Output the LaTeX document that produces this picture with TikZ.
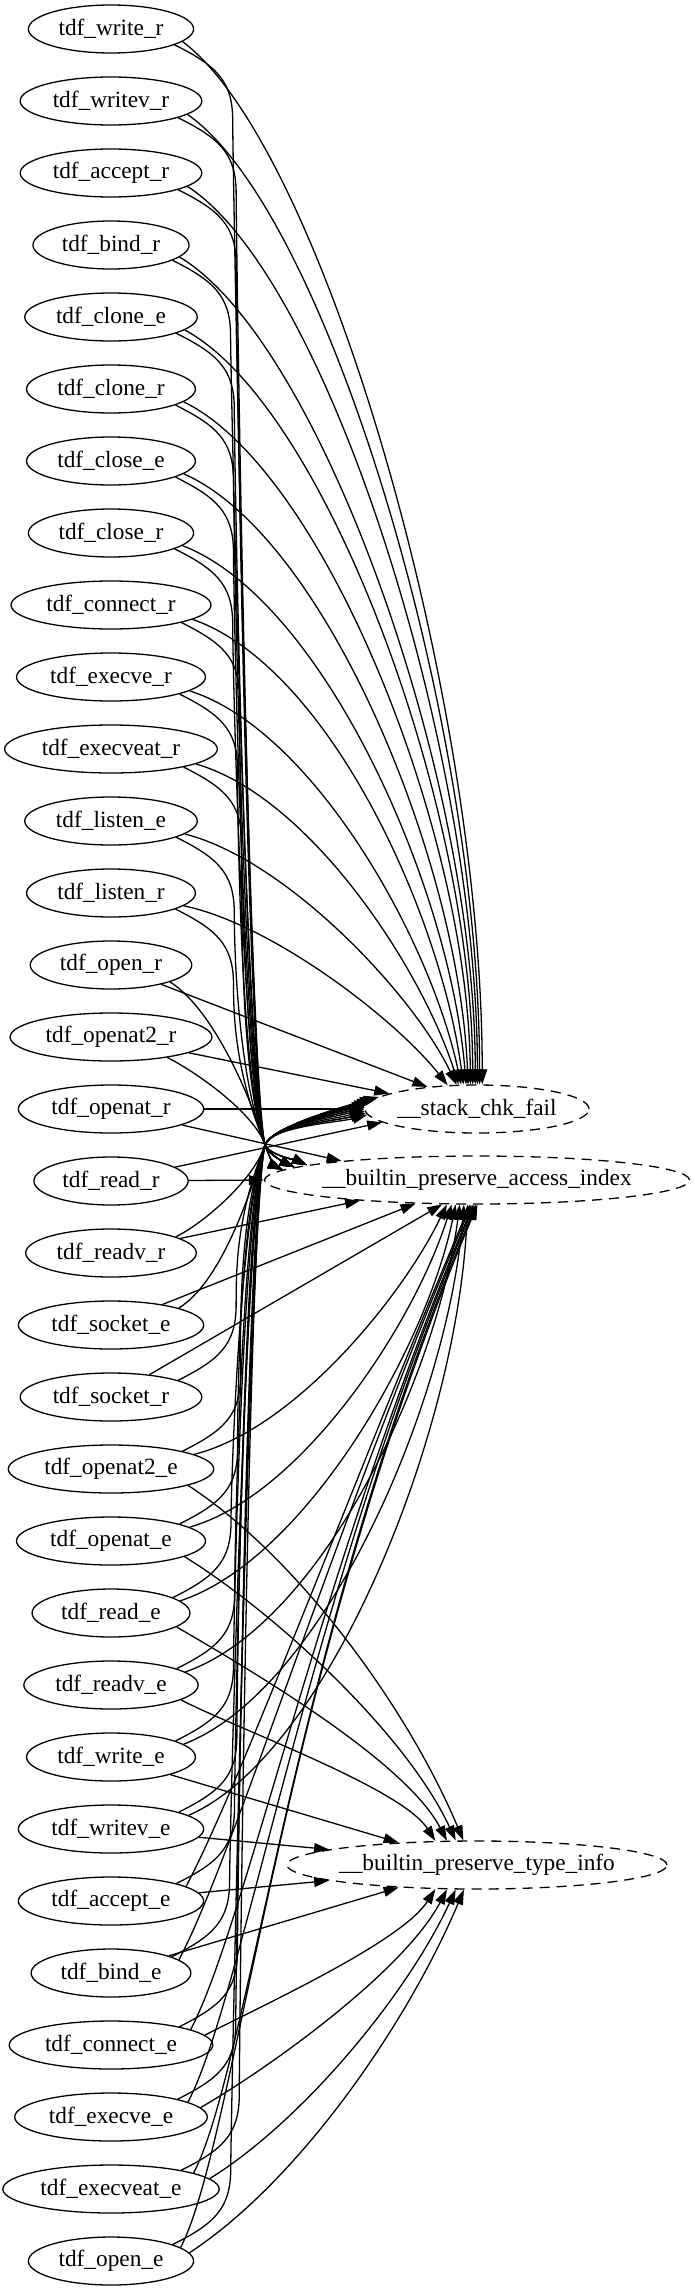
\documentclass[tikz,border=0pt]{standalone}
\usepackage{fontspec}
\setmainfont{Liberation Serif}
\usetikzlibrary{arrows.meta,shapes.geometric}

\begin{document}
\begin{tikzpicture}[x=1pt,y=1pt]

    \tikzset{
      fn/.style={
        draw,
        ellipse,
        line width=1.3pt,
        inner xsep=6pt,
        inner ysep=2pt,
        minimum height=48pt,
        font=\fontsize{23.3}{28}\selectfont,
      },
      ext/.style={
        fn,
        dash pattern=on 10pt off 7pt,
        inner xsep=-10pt,
      },
      call/.style={
        line width=1.3pt,
        -{Triangle[length=15pt,width=10pt]},
      },
    }
    \useasboundingbox (0,0) rectangle (695,-2291);
	\draw (111,-29) node[fn] (write-r) {tdf\_write\_r};
	\draw (111,-101) node[fn] (writev-r) {tdf\_writev\_r};
	\draw (111,-173) node[fn] (accept-r) {tdf\_accept\_r};
	\draw (111,-245) node[fn] (bind-r) {tdf\_bind\_r};
	\draw (111,-317) node[fn] (clone-e) {tdf\_clone\_e};
	\draw (111,-389) node[fn] (clone-r) {tdf\_clone\_r};
	\draw (111,-461) node[fn] (close-e) {tdf\_close\_e};
	\draw (111,-533) node[fn] (close-r) {tdf\_close\_r};
	\draw (111,-605) node[fn] (connect-r) {tdf\_connect\_r};
	\draw (111,-677) node[fn] (execve-r) {tdf\_execve\_r};
	\draw (111,-749) node[fn] (execveat-r) {tdf\_execveat\_r};
	\draw (111,-821) node[fn] (listen-e) {tdf\_listen\_e};
	\draw (111,-893) node[fn] (listen-r) {tdf\_listen\_r};
	\draw (111,-965) node[fn] (open-r) {tdf\_open\_r};
	\draw (111,-1037) node[fn] (openat2-r) {tdf\_openat2\_r};
	\draw (111,-1109) node[fn] (openat-r) {tdf\_openat\_r};
	\draw (111,-1181) node[fn] (read-r) {tdf\_read\_r};
	\draw (111,-1253) node[fn] (readv-r) {tdf\_readv\_r};
	\draw (111,-1325) node[fn] (socket-e) {tdf\_socket\_e};
	\draw (111,-1397) node[fn] (socket-r) {tdf\_socket\_r};
	\draw (111,-1469) node[fn] (openat2-e) {tdf\_openat2\_e};
	\draw (111,-1541) node[fn] (openat-e) {tdf\_openat\_e};
	\draw (111,-1613) node[fn] (read-e) {tdf\_read\_e};
	\draw (111,-1685) node[fn] (readv-e) {tdf\_readv\_e};
	\draw (111,-1757) node[fn] (write-e) {tdf\_write\_e};
	\draw (111,-1829) node[fn] (writev-e) {tdf\_writev\_e};
	\draw (111,-1901) node[fn] (accept-e) {tdf\_accept\_e};
	\draw (111,-1973) node[fn] (bind-e) {tdf\_bind\_e};
	\draw (111,-2045) node[fn] (connect-e) {tdf\_connect\_e};
	\draw (111,-2117) node[fn] (execve-e) {tdf\_execve\_e};
	\draw (111,-2189) node[fn] (execveat-e) {tdf\_execveat\_e};
	\draw (111,-2261) node[fn] (open-e) {tdf\_open\_e};
	\draw (477,-1109) node[ext,minimum width=224pt] (stack) {\_\_stack\_chk\_fail};
	\draw (477,-1180) node[ext,minimum width=425pt] (access) {\_\_builtin\_preserve\_access\_index};
	\draw (477,-1865) node[ext,minimum width=380pt] (typeinfo) {\_\_builtin\_preserve\_type\_info};
	\coordinate (hub) at (265,-1145);

	\draw[call] (write-r.-10) .. controls +(140,-104) and +(0,386) .. (stack.78);
	\draw[call] (writev-r.-10) .. controls +(140,-97) and +(0,359) .. (stack.84);
	\draw[call] (accept-r.-10) .. controls +(140,-90) and +(0,332) .. (stack.89);
	\draw[call] (bind-r.-10) .. controls +(140,-83) and +(0,306) .. (stack.94);
	\draw[call] (clone-e.-10) .. controls +(140,-75) and +(0,279) .. (stack.100);
	\draw[call] (clone-r.-10) .. controls +(140,-68) and +(-2,252) .. (stack.105);
	\draw[call] (close-e.-10) .. controls +(140,-61) and +(-9,226) .. (stack.110);
	\draw[call] (close-r.-10) .. controls +(140,-54) and +(-16,199) .. (stack.114);
	\draw[call] (connect-r.-10) .. controls +(135,-47) and +(-23,172) .. (stack.119);
	\draw[call] (execve-r.-10) .. controls +(123,-39) and +(-31,146) .. (stack.123);
	\draw[call] (execveat-r.-10) .. controls +(112,-32) and +(-38,119) .. (stack.127);
	\draw[call] (listen-e.-10) .. controls +(100,-25) and +(-45,93) .. (stack.130);
	\draw[call] (listen-r.-10) .. controls +(88,-18) and +(-52,66) .. (stack.141);
	\draw[call] (open-r) -- (stack.156);
	\draw[call] (openat2-r) -- (stack.170);
	\draw[call] (openat-r) -- (stack.180);
	\draw[call] (read-r) -- (stack.188);

	\draw[call] (write-r.-14) .. controls +(40,-20) and +(0,40) .. ++(58,-75) .. controls +(0,-40) and +(-16,70) .. (hub) .. controls +(-72:10) and +(155:8) .. (access.177);
	\draw[call] (writev-r.-14) .. controls +(40,-20) and +(0,40) .. ++(58,-75) .. controls +(0,-40) and +(-17,70) .. (hub) .. controls +(-72:10) and +(155:8) .. (access.177);
	\draw[call] (accept-r.-14) .. controls +(40,-20) and +(0,40) .. ++(58,-75) .. controls +(0,-40) and +(-18,70) .. (hub) .. controls +(-72:10) and +(155:8) .. (access.177);
	\draw[call] (bind-r.-14) .. controls +(40,-20) and +(0,40) .. ++(58,-75) .. controls +(0,-40) and +(-19,70) .. (hub) .. controls +(-72:10) and +(155:8) .. (access.177);
	\draw[call] (clone-e.-14) .. controls +(40,-20) and +(0,40) .. ++(58,-75) .. controls +(0,-40) and +(-20,70) .. (hub) .. controls +(-72:10) and +(155:8) .. (access.177);
	\draw[call] (clone-r.-14) .. controls +(40,-20) and +(0,40) .. ++(58,-75) .. controls +(0,-40) and +(-21,70) .. (hub) .. controls +(-72:10) and +(155:8) .. (access.176);
	\draw[call] (close-e.-14) .. controls +(40,-20) and +(0,40) .. ++(58,-75) .. controls +(0,-40) and +(-22,70) .. (hub) .. controls +(-72:10) and +(155:8) .. (access.176);
	\draw[call] (close-r.-14) .. controls +(40,-20) and +(0,40) .. ++(58,-75) .. controls +(0,-40) and +(-23,70) .. (hub) .. controls +(-72:10) and +(155:8) .. (access.176);
	\draw[call] (connect-r.-14) .. controls +(40,-20) and +(0,40) .. ++(58,-75) .. controls +(0,-40) and +(-24,70) .. (hub) .. controls +(-72:10) and +(155:8) .. (access.176);
	\draw[call] (execve-r.-14) .. controls +(40,-20) and +(0,40) .. ++(58,-75) .. controls +(0,-40) and +(-25,70) .. (hub) .. controls +(-72:10) and +(155:8) .. (access.176);
	\draw[call] (execveat-r.-14) .. controls +(40,-20) and +(0,40) .. ++(58,-75) .. controls +(0,-40) and +(-26,70) .. (hub) .. controls +(-72:10) and +(155:8) .. (access.175);
	\draw[call] (listen-e.-14) .. controls +(40,-20) and +(0,40) .. ++(58,-75) .. controls +(0,-40) and +(-27,70) .. (hub) .. controls +(-72:10) and +(155:8) .. (access.175);
	\draw[call] (listen-r.-14) .. controls +(40,-20) and +(0,40) .. ++(58,-75) .. controls +(0,-40) and +(-28,70) .. (hub) .. controls +(-72:10) and +(155:8) .. (access.175);
	\draw[call] (open-r.-16) .. controls +(40,-25) and +(-17,57) .. (hub) .. controls +(-72:10) and +(155:8) .. (access.175);
	\draw[call] (openat2-r.-20) .. controls +(30,-15) and +(-10,31) .. (hub) .. controls +(-72:10) and +(155:8) .. (access.175);
	\draw[call] (openat-r) -- (access.172);
	\draw[call] (read-r) -- (access.180);
	\draw[call] (readv-r) -- (access.190);
	\draw[call] (socket-e) -- (access.201);
	\draw[call] (socket-r) -- (access.215);

	\draw[call] (readv-r.14) .. controls +(30,15) and +(-10,-33) .. (hub) .. controls +(70:20) and +(195:30) .. (stack.173);
	\draw[call] (socket-e.14) .. controls +(40,25) and +(-17,-58) .. (hub) .. controls +(70:20) and +(195:30) .. (stack.174);
	\draw[call] (socket-r.14) .. controls +(40,20) and +(0,-40) .. ++(58,75) .. controls +(0,40) and +(-28,-70) .. (hub) .. controls +(70:20) and +(195:30) .. (stack.174);
	\draw[call] (openat2-e.14) .. controls +(40,20) and +(0,-40) .. ++(58,75) .. controls +(0,40) and +(-27,-70) .. (hub) .. controls +(70:20) and +(195:30) .. (stack.175);
	\draw[call] (openat-e.14) .. controls +(40,20) and +(0,-40) .. ++(58,75) .. controls +(0,40) and +(-26,-70) .. (hub) .. controls +(70:20) and +(195:30) .. (stack.176);
	\draw[call] (read-e.14) .. controls +(40,20) and +(0,-40) .. ++(58,75) .. controls +(0,40) and +(-25,-70) .. (hub) .. controls +(70:20) and +(195:30) .. (stack.177);
	\draw[call] (readv-e.14) .. controls +(40,20) and +(0,-40) .. ++(58,75) .. controls +(0,40) and +(-24,-70) .. (hub) .. controls +(70:20) and +(195:30) .. (stack.177);
	\draw[call] (write-e.14) .. controls +(40,20) and +(0,-40) .. ++(58,75) .. controls +(0,40) and +(-23,-70) .. (hub) .. controls +(70:20) and +(195:30) .. (stack.178);
	\draw[call] (writev-e.14) .. controls +(40,20) and +(0,-40) .. ++(58,75) .. controls +(0,40) and +(-22,-70) .. (hub) .. controls +(70:20) and +(195:30) .. (stack.179);
	\draw[call] (accept-e.15) .. controls +(40,20) and +(0,-40) .. ++(58,75) .. controls +(0,40) and +(-21,-70) .. (hub) .. controls +(70:20) and +(195:30) .. (stack.179);
	\draw[call] (bind-e.15) .. controls +(40,20) and +(0,-40) .. ++(58,75) .. controls +(0,40) and +(-20,-70) .. (hub) .. controls +(70:20) and +(195:30) .. (stack.180);
	\draw[call] (connect-e.15) .. controls +(40,20) and +(0,-40) .. ++(58,75) .. controls +(0,40) and +(-19,-70) .. (hub) .. controls +(70:20) and +(195:30) .. (stack.181);
	\draw[call] (execve-e.15) .. controls +(40,20) and +(0,-40) .. ++(58,75) .. controls +(0,40) and +(-18,-70) .. (hub) .. controls +(70:20) and +(195:30) .. (stack.182);
	\draw[call] (execveat-e.15) .. controls +(40,20) and +(0,-40) .. ++(58,75) .. controls +(0,40) and +(-17,-70) .. (hub) .. controls +(70:20) and +(195:30) .. (stack.182);
	\draw[call] (open-e.15) .. controls +(40,20) and +(0,-40) .. ++(58,75) .. controls +(0,40) and +(-16,-70) .. (hub) .. controls +(70:20) and +(195:30) .. (stack.183);

	\draw[call] (openat2-e.10) .. controls +(100,25) and +(-45,-93) .. (access.219);
	\draw[call] (openat-e.10) .. controls +(112,32) and +(-38,-120) .. (access.224);
	\draw[call] (read-e.10) .. controls +(123,40) and +(-30,-146) .. (access.229);
	\draw[call] (readv-e.10) .. controls +(135,47) and +(-23,-173) .. (access.235);
	\draw[call] (write-e.10) .. controls +(140,54) and +(-16,-199) .. (access.242);
	\draw[call] (writev-e.10) .. controls +(140,61) and +(-9,-226) .. (access.249);
	\draw[call] (accept-e.11) .. controls +(55,105) and +(-129,-307) .. (access.254);
	\draw[call] (bind-e.11) .. controls +(55,105) and +(-143,-340) .. (access.257);
	\draw[call] (connect-e.11) .. controls +(55,105) and +(-156,-372) .. (access.261);
	\draw[call] (execve-e.11) .. controls +(55,105) and +(-170,-405) .. (access.264);
	\draw[call] (execveat-e.11) .. controls +(55,105) and +(-184,-437) .. (access.268);
	\draw[call] (open-e.11) .. controls +(55,105) and +(-197,-469) .. (access.271);

	\draw[call] (openat2-e.-12) .. controls +(110,-72) and +(-56,133) .. (typeinfo.119);
	\draw[call] (openat-e.-12) .. controls +(92,-57) and +(-49,106) .. (typeinfo.131);
	\draw[call] (read-e.-12) .. controls +(74,-43) and +(-42,80) .. (typeinfo.141);
	\draw[call] (readv-e.-12) .. controls +(56,-29) and +(-34,53) .. (typeinfo.150);
	\draw[call] (write-e) -- (typeinfo.164);
	\draw[call] (writev-e) -- (typeinfo.174);
	\draw[call] (accept-e) -- (typeinfo.186);
	\draw[call] (bind-e) -- (typeinfo.196);
	\draw[call] (connect-e.6) .. controls +(56,29) and +(-34,-53) .. (typeinfo.210);
	\draw[call] (execve-e.6) .. controls +(74,43) and +(-42,-80) .. (typeinfo.219);
	\draw[call] (execveat-e.6) .. controls +(92,57) and +(-49,-106) .. (typeinfo.229);
	\draw[call] (open-e.6) .. controls +(110,72) and +(-56,-133) .. (typeinfo.242);

\end{tikzpicture}
\end{document}
